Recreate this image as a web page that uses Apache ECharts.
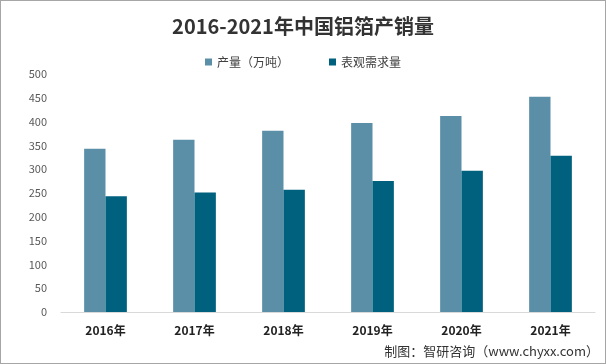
<!DOCTYPE html>
<html><head><meta charset="utf-8">
<script src="https://cdn.jsdelivr.net/npm/echarts@6/dist/echarts.min.js"></script>
<style>html,body{margin:0;padding:0;background:#fff}#c{width:606px;height:364px;box-sizing:border-box;border:1px solid #a6a6a6}</style>
</head><body><div id="c"></div>
<script>
const categories = ['2016年','2017年','2018年','2019年','2020年','2021年'];
const production = [343, 362, 381, 397, 412, 452];
const demand = [243, 251, 257, 275, 297, 328];
const yTicks = [0, 500, 50];
const chart = echarts.init(document.getElementById('c'));
const font = '"Microsoft YaHei","Noto Sans CJK SC",sans-serif';
chart.setOption({
  animation: false,
  title: {text: '2016-2021年中国铝箔产销量', left: 'center', top: 10,
    textStyle: {fontSize: 20, fontWeight: 'bold', color: '#333', fontFamily: font}},
  legend: {top: 50, left: 'center', itemWidth: 7, itemHeight: 7, itemGap: 40, icon: 'rect',
    textStyle: {fontSize: 12, color: '#404040', fontFamily: font}},
  grid: {left: 60, right: 10, top: 73, bottom: 51},
  xAxis: {type: 'category', data: categories,
    axisLine: {lineStyle: {color: '#d9d9d9'}}, axisTick: {show: false},
    axisLabel: {fontSize: 12, fontWeight: 'bold', color: '#222', margin: 12, fontFamily: font}},
  yAxis: {type: 'value', min: yTicks[0], max: yTicks[1], interval: yTicks[2],
    splitLine: {show: false}, axisLine: {show: false}, axisTick: {show: false},
    axisLabel: {fontSize: 11, color: '#595959', margin: 14, fontFamily: font}},
  series: [
    {name: '产量（万吨）', type: 'bar', data: production, barGap: '0%', barCategoryGap: '52%',
      itemStyle: {color: '#5b8fa8'}},
    {name: '表观需求量', type: 'bar', data: demand, itemStyle: {color: '#00617f'}}
  ],
  graphic: [{type: 'text', right: 6, bottom: 5,
    style: {text: '制图：智研咨询（www.chyxx.com）', fontSize: 13, fill: '#333', fontFamily: font}}]
});
</script></body></html>
